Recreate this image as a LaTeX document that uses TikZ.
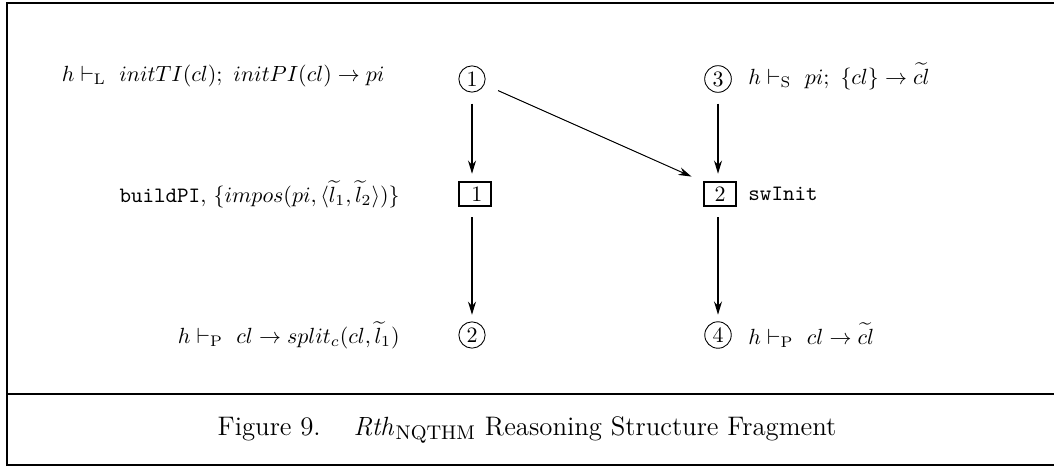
\documentclass[tikz,border=0pt]{standalone}
\usepackage{amsmath}
\usetikzlibrary{arrows.meta}
\begin{document}
\begin{tikzpicture}[x=0.016cm,y=-0.016cm,
  cnode/.style={circle,draw,line width=0.4pt,inner sep=1.3pt,minimum size=10.6pt,font=\normalsize},
  bnode/.style={rectangle,draw,line width=0.9pt,minimum width=15pt,minimum height=10.5pt,inner sep=0pt},
  lbl/.style={inner sep=0pt},
  varrow/.style={line width=0.9pt,-{Stealth[length=6pt,width=3.6pt]}},
  darrow/.style={line width=0.45pt,-{Stealth[length=6pt,width=3.6pt]}},
  frame/.style={line width=0.9pt}]
\useasboundingbox (0,0) rectangle (1054,466);
% frame
\draw[frame] (7,466) -- (7,3) -- (1054,3);
\draw[frame] (7,394) -- (1054,394);
\draw[line width=0.5pt] (7,465) -- (1054,465);
% nodes
\node[cnode] (c1) at (472,79) {1};
\node[cnode] (c3) at (718,79) {3};
\node[bnode] (b1) at (475,194) {\,1};
\node[bnode] (b2) at (720,194) {2};
\node[cnode] (c2) at (472,335) {2};
\node[cnode] (c4) at (718,335) {4};
% labels
\node[lbl,anchor=east] (t1) at (385,76) {$h\vdash_{\mathrm{L}}\ initTI(cl);\ initPI(cl)\rightarrow pi$};
\node[lbl,anchor=east] (t2) at (400,194) {\texttt{buildPI}, $\{impos(pi,\langle\widetilde{l}_1,\widetilde{l}_2\rangle)\}$};
\node[lbl,anchor=east] (t3) at (400,335) {$h\vdash_{\mathrm{P}}\ cl\rightarrow split_c(cl,\widetilde{l}_1)$};
\node[lbl,anchor=west] (t4) at (748,76) {$h\vdash_{\mathrm{S}}\ pi;\ \{cl\}\rightarrow\widetilde{cl}$};
\node[lbl,anchor=west] (t5) at (748,194) {\texttt{swInit}};
\node[lbl,anchor=west] (t6) at (748,335) {$h\vdash_{\mathrm{P}}\ cl\rightarrow\widetilde{cl}$};
% connectors
\draw[varrow,shorten <=5pt,shorten >=3.5pt] (c1.south) -- (c1.south |- b1.north);
\draw[varrow,shorten <=5pt,shorten >=3.5pt] (c3.south) -- (c3.south |- b2.north);
\draw[varrow,shorten <=5pt,shorten >=3pt] (c1.south |- b1.south) -- (c2.north);
\draw[varrow,shorten <=5pt,shorten >=3pt] (c3.south |- b2.south) -- (c4.north);
\draw[darrow,shorten <=13pt,shorten >=5.5pt] (c1.center) -- (b2.north west);
% caption
\node[lbl] (cap) at (527,430) {\fontsize{12.2}{15}\selectfont Figure 9.\hspace{15pt}$\mathit{Rth}_{\mathrm{NQTHM}}$ Reasoning Structure Fragment};
\end{tikzpicture}
\end{document}
